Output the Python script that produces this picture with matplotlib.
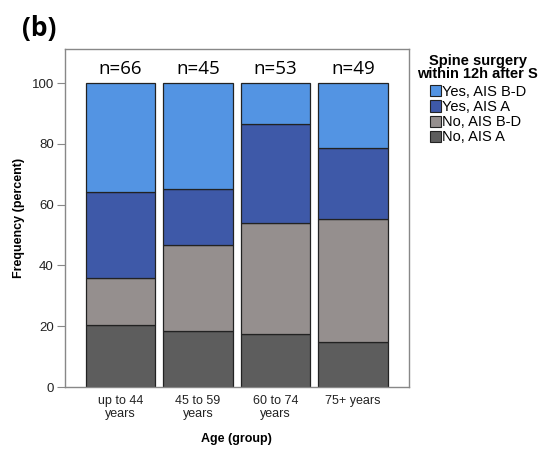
import numpy as np
import matplotlib.pyplot as plt
from matplotlib.patches import Patch

groups = ["up to 44\nyears", "45 to 59\nyears", "60 to 74\nyears", "75+ years"]
n_labels = ["n=66", "n=45", "n=53", "n=49"]

# percent per age group, stacked from the bottom
no_ais_a = [20.3, 18.5, 17.3, 14.9]
no_ais_bd = [15.5, 28.1, 36.5, 40.4]
yes_ais_a = [28.4, 18.5, 32.7, 23.5]
yes_ais_bd = [35.8, 34.9, 13.5, 21.2]

series = [
    ("No, AIS A", no_ais_a, "#5d5d5d"),
    ("No, AIS B-D", no_ais_bd, "#958f8e"),
    ("Yes, AIS A", yes_ais_a, "#3e59a8"),
    ("Yes, AIS B-D", yes_ais_bd, "#5394e3"),
]

plt.rcParams['font.family'] = ['Liberation Sans', 'DejaVu Sans']

fig = plt.figure(figsize=(5.45, 4.5), dpi=100)
ax = fig.add_axes([0.119, 0.14, 0.631, 0.751])

x = np.arange(len(groups))
bottom = np.zeros(len(groups))
for name, vals, col in series:
    ax.bar(x, vals, width=0.9, bottom=bottom, color=col,
           edgecolor="#222222", linewidth=0.9, label=name)
    bottom += np.array(vals)

for i, lab in enumerate(n_labels):
    ax.text(x[i], 104.8, lab, ha="center", va="center",
            fontsize=13.5, family="Open Sans")

ax.set_xlim(-0.72, 3.72)
ax.set_ylim(0, 111.2)
ax.set_yticks([0, 20, 40, 60, 80, 100])
ax.set_xticks(x)
ax.set_xticklabels(groups, fontsize=9, color="#222222", linespacing=1.1)
ax.tick_params(axis="x", length=0, pad=6)
ax.tick_params(axis="y", length=6, color="#888888", labelsize=9.5,
               labelcolor="#222222", pad=2)
for sp in ax.spines.values():
    sp.set_color("#888888")
    sp.set_linewidth(1.0)

ax.set_xlabel("Age (group)", fontsize=9, fontweight="bold", labelpad=9)
ax.set_ylabel("Frequency (percent)", fontsize=9, fontweight="bold", labelpad=5)

handles = [Patch(facecolor=c, edgecolor="#222222", linewidth=0.8, label=n)
           for n, _, c in series[::-1]]
leg = ax.legend(handles=handles, loc="upper left", bbox_to_anchor=(1.0, 1.01),
                frameon=False, fontsize=10.5, handlelength=0.8, handleheight=0.8,
                handletextpad=0.05, labelspacing=0.08, borderaxespad=0.2,
                title="Spine surgery\nwithin 12h after S",
                title_fontproperties={"weight": "bold", "size": 10.5})
leg.get_title().set_linespacing(0.85)
leg.get_title().set_multialignment("center")
leg._legend_box.align = "center"
leg._legend_box.sep = 3

fig.text(0.04, 0.967, "(b)", fontsize=19, fontweight="bold", family="Open Sans",
         va="top")

fig.savefig("out.png", dpi=100)
